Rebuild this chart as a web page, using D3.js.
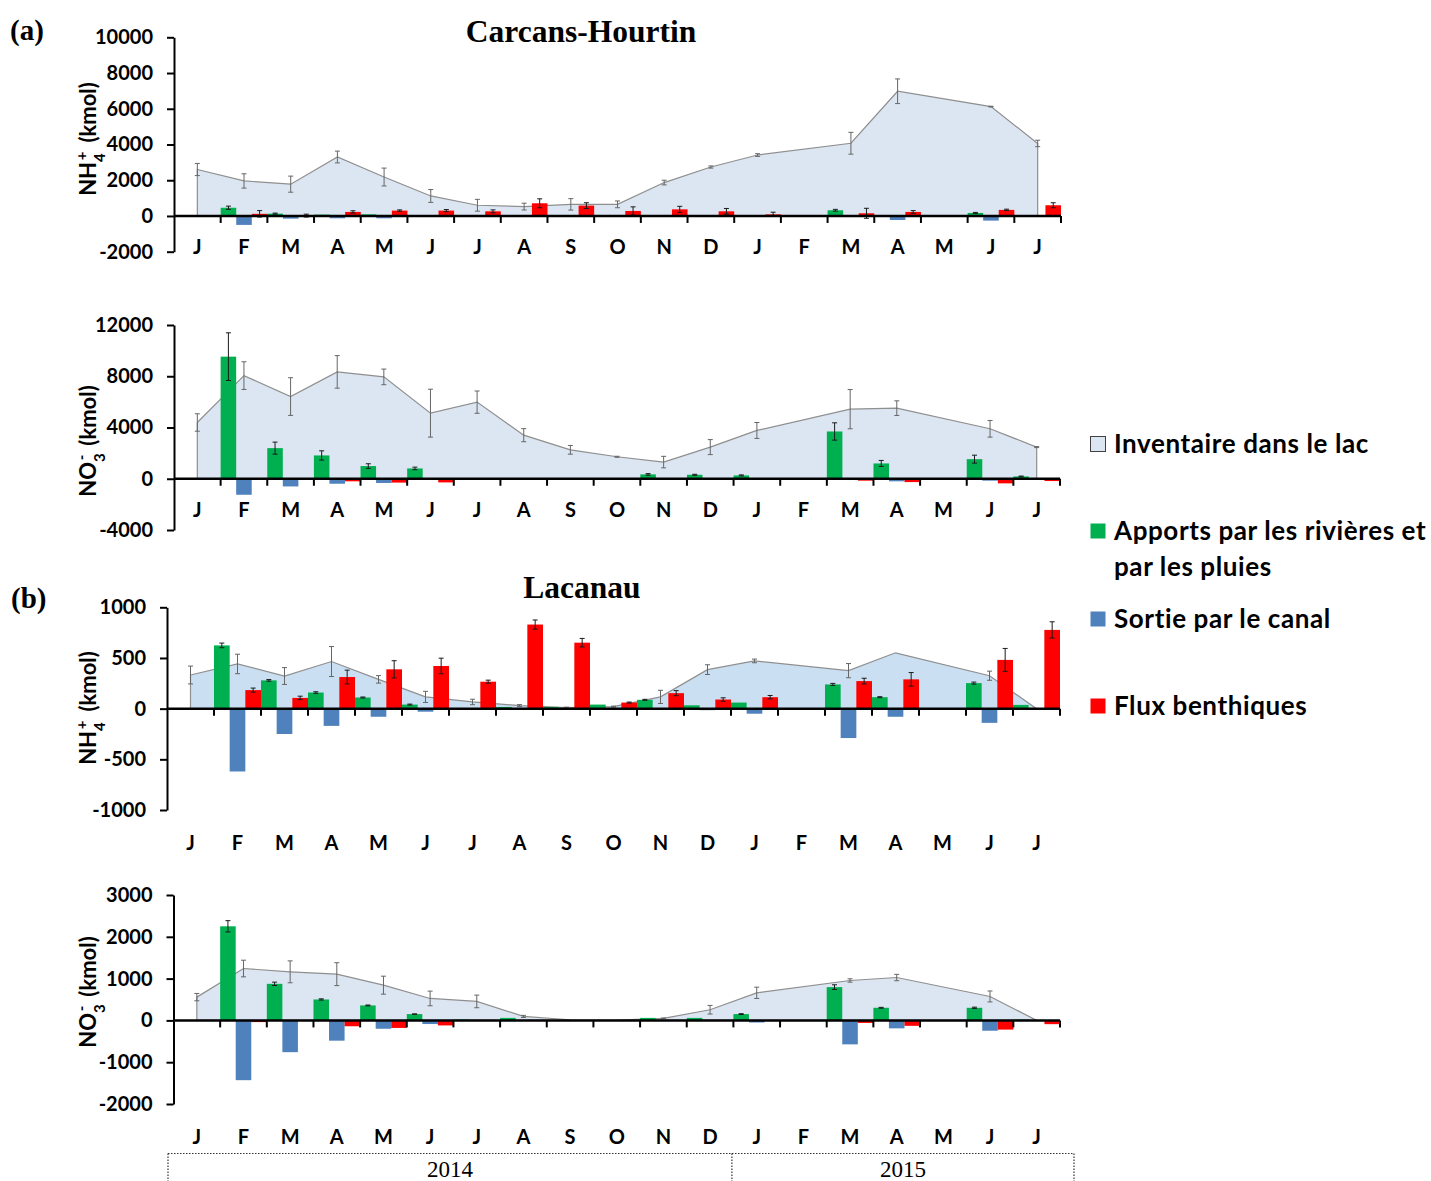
<!DOCTYPE html>
<html>
<head>
<meta charset="UTF-8">
<title>Inventaire et flux d'azote - Carcans-Hourtin et Lacanau</title>
<style>
  body { margin: 0; background: #fff; }
  svg { display: block; }
  text { font-family: Lato, 'Open Sans', sans-serif; }
  .serif { font-family: 'Liberation Serif', 'DejaVu Serif', serif; }
</style>
</head>
<body>
<script src="https://cdn.jsdelivr.net/npm/d3@7/dist/d3.min.js"></script>
<script>

// Month labels, Jan 2014 -> Jul 2015
var months = ["J","F","M","A","M","J","J","A","S","O","N","D","J","F","M","A","M","J","J"];
var years = [{label: "2014", from: 0, to: 12}, {label: "2015", from: 12, to: 19}];

// (a) Carcans-Hourtin, NH4+ (kmol)
var carcNH4Inv      = [2600, 1960, 1780, 3300, 2180, 1120, 600, 525, 650, 650, 1870, 2740, 3410, null, 4070, 6980, null, 6120, 4060];
var carcNH4InvErr   = [340, 400, 450, 330, 500, 360, 330, 190, 320, 190, 130, 60, 75, null, 610, 690, null, 20, 180];
var carcNH4Apports  = [0, 460, 130, 75, 90, 0, 0, 0, 30, 0, 30, 0, 0, 0, 320, 0, 0, 170, 0];
var carcNH4AppErr   = [0, 90, 30, 0, 0, 0, 0, 0, 0, 0, 0, 0, 0, 0, 50, 0, 0, 30, 0];
var carcNH4Sortie   = [0, -500, -150, -130, -130, 0, 0, 0, 0, 0, 0, 0, 0, 0, -60, -225, 0, -260, 0];
var carcNH4Flux     = [0, 120, 20, 225, 300, 300, 260, 710, 580, 280, 370, 260, 90, 0, 150, 225, 0, 340, 600];
var carcNH4FluxErr  = [0, 180, 80, 65, 40, 60, 80, 250, 160, 230, 170, 160, 120, 0, 280, 75, 0, 40, 140];

// (a) Carcans-Hourtin, NO3- (kmol)
var carcNO3Inv      = [4390, 8050, 6415, 8340, 7950, 5120, 5980, 3400, 2260, 1715, 1300, 2470, 3770, null, 5430, 5510, null, 3900, 2470];
var carcNO3InvErr   = [680, 1080, 1470, 1270, 610, 1870, 870, 510, 340, 40, 450, 585, 620, null, 1530, 570, null, 650, 40];
var carcNO3Apports  = [0, 9530, 2390, 1820, 990, 805, 0, 0, 0, 40, 340, 310, 260, 0, 3690, 1195, 0, 1530, 180];
var carcNO3AppErr   = [0, 1860, 470, 360, 180, 100, 0, 0, 0, 0, 60, 40, 40, 0, 675, 235, 0, 310, 30];
var carcNO3Sortie   = [0, -1250, -600, -390, -330, 0, 0, 0, 0, 0, 0, 0, 0, 0, 0, -200, 0, -150, 0];
var carcNO3Flux     = [0, -50, 0, -200, -300, -285, 0, 0, 0, 0, 0, 0, 0, 0, -150, -260, 0, -360, -180];
var carcNO3FluxErr  = [0, 0, 0, 0, 0, 0, 0, 0, 0, 0, 0, 0, 0, 0, 0, 0, 0, 0, 0];

// (b) Lacanau, NH4+ (kmol)
var lacNH4Inv       = [332, 441, 322, 465, 289, 116, 66, 30, 10, 20, 116, 385, 471, null, 375, 551, null, 325, 0];
var lacNH4InvErr    = [88, 96, 83, 148, 37, 55, 27, 10, 5, 5, 65, 48, 18, null, 70, 0, null, 45, 0];
var lacNH4Apports   = [0, 624, 279, 159, 110, 40, 0, 17, 17, 40, 87, 33, 60, 0, 239, 113, 0, 252, 37];
var lacNH4AppErr    = [0, 23, 8, 8, 5, 5, 0, 0, 0, 0, 5, 0, 0, 0, 10, 5, 0, 10, 0];
var lacNH4Sortie    = [0, -620, -250, -170, -80, -30, 0, 0, 0, 0, 0, -15, -50, 0, -290, -80, 0, -140, 0];
var lacNH4Flux      = [0, 183, 106, 312, 388, 421, 266, 830, 651, 60, 153, 90, 113, 0, 272, 289, 0, 481, 777];
var lacNH4FluxErr   = [0, 20, 17, 68, 85, 77, 15, 45, 42, 5, 25, 17, 17, 0, 28, 67, 0, 113, 80];

// (b) Lacanau, NO3- (kmol)
var lacNO3Inv       = [557, 1241, 1162, 1106, 843, 525, 454, 95, 15, 5, 48, 255, 660, null, 955, 1026, null, 573, 0];
var lacNO3InvErr    = [88, 199, 262, 274, 215, 175, 151, 25, 0, 0, 10, 103, 135, null, 40, 76, null, 131, 0];
var lacNO3Apports   = [0, 2251, 875, 501, 358, 151, 20, 60, 0, 10, 60, 60, 151, 0, 796, 302, 0, 302, 20];
var lacNO3AppErr    = [0, 135, 40, 15, 10, 5, 0, 0, 0, 0, 0, 0, 10, 0, 56, 10, 0, 15, 0];
var lacNO3Sortie    = [0, -1430, -760, -485, -200, -87, 0, 0, 0, 0, 0, 0, -50, 0, -573, -190, 0, -247, 0];
var lacNO3Flux      = [0, -40, 0, -140, -180, -120, 0, 0, 0, 0, 0, 0, 0, 0, -60, -130, 0, -220, -90];
var lacNO3FluxErr   = [0, 0, 0, 0, 0, 0, 0, 0, 0, 0, 0, 0, 0, 0, 0, 0, 0, 0, 0];

var legendLabels = ["Inventaire dans le lac", "Apports par les rivières et|par les pluies", "Sortie par le canal", "Flux benthiques"];

var colGreen = "#00b050", colBlue = "#4f81bd", colRed = "#ff0000";

var svg = d3.select("body").append("svg")
            .attr("width", 1431)
            .attr("height", 1181);

function errBars(g, data, xf, y, color) {
  var eb = g.append("g").attr("stroke", color).attr("stroke-width", 1);
  data.forEach(function(d) {
    var cx = xf(d), t = y(d.v + d.e), b = y(d.v - d.e);
    eb.append("line").attr("x1", cx).attr("x2", cx).attr("y1", t).attr("y2", b);
    eb.append("line").attr("x1", cx - 2.5).attr("x2", cx + 2.5).attr("y1", t).attr("y2", t);
    eb.append("line").attr("x1", cx - 2.5).attr("x2", cx + 2.5).attr("y1", b).attr("y2", b);
  });
}

function drawPanel(p) {
  var x = d3.scaleBand().domain(d3.range(months.length)).range([p.x0, p.x1]).padding(0);
  var xs = d3.scaleBand().domain(["apports", "sortie", "flux"]).range([0, x.bandwidth()]).padding(0);
  var y = d3.scaleLinear().domain(p.yDomain).range([p.yBottom, p.yTop]);
  var g = svg.append("g");
  var mid = function(d) { return x(d.i) + x.bandwidth() / 2; };

  // inventory area (missing months are skipped, the line joins across them)
  var inv = p.inv.map(function(v, i) { return {i: i, v: v, e: p.invErr[i]}; })
                 .filter(function(d) { return d.v != null; });
  var area = d3.area().x(mid).y0(y(0)).y1(function(d) { return y(d.v); });
  g.append("path").datum(inv)
   .attr("d", area)
   .attr("fill", p.areaFill)
   .attr("stroke", "#8f8f8f")
   .attr("stroke-width", 1.2);
  errBars(g, inv.filter(function(d) { return d.e > 0; }), mid, y, "#666");

  // bars
  var series = [
    {key: "apports", vals: p.apports, err: p.appErr, color: colGreen},
    {key: "sortie", vals: p.sortie, err: null, color: colBlue},
    {key: "flux", vals: p.flux, err: p.fluxErr, color: colRed}
  ];
  series.forEach(function(s) {
    var data = s.vals.map(function(v, i) { return {i: i, v: v, e: s.err ? s.err[i] : 0}; })
                     .filter(function(d) { return d.v !== 0; });
    g.selectAll(null).data(data).enter().append("rect")
     .attr("x", function(d) { return x(d.i) + xs(s.key); })
     .attr("width", xs.bandwidth())
     .attr("y", function(d) { return y(Math.max(0, d.v)); })
     .attr("height", function(d) { return Math.max(1, Math.abs(y(d.v) - y(0))); })
     .attr("fill", s.color);
    errBars(g, data.filter(function(d) { return d.e > 0; }),
            function(d) { return x(d.i) + xs(s.key) + xs.bandwidth() / 2; }, y, "#1a1a1a");
  });

  // y axis
  var yAxis = d3.axisLeft(y).tickValues(p.yTicks).tickSize(7).tickSizeOuter(0).tickPadding(14)
                .tickFormat(function(d) { return String(d); });
  var ga = g.append("g").attr("transform", "translate(" + p.x0 + ",0)").call(yAxis);
  ga.select(".domain").attr("stroke", "#000").attr("stroke-width", 2);
  ga.selectAll(".tick line").attr("stroke", "#000").attr("stroke-width", 2);
  ga.selectAll(".tick text")
    .attr("fill", "#000")
    .style("font-family", "Lato, 'Open Sans', sans-serif")
    .style("font-weight", "bold")
    .style("font-size", "20px");

  // x axis on the zero line, ticks between months
  var y0 = y(0);
  g.append("line").attr("x1", p.x0).attr("x2", p.x1).attr("y1", y0).attr("y2", y0)
   .attr("stroke", "#000").attr("stroke-width", 2.5);
  g.selectAll(null).data(d3.range(1, months.length + 1)).enter().append("line")
   .attr("x1", function(i) { return i < months.length ? x(i) : p.x1; })
   .attr("x2", function(i) { return i < months.length ? x(i) : p.x1; })
   .attr("y1", y0).attr("y2", y0 + 7)
   .attr("stroke", "#000").attr("stroke-width", 2);
  g.selectAll(null).data(months).enter().append("text")
   .attr("x", function(m, i) { return x(i) + x.bandwidth() / 2; })
   .attr("y", p.labelY)
   .attr("text-anchor", "middle")
   .attr("dy", "0.36em")
   .style("font-weight", "bold")
   .style("font-size", "20px")
   .text(function(m) { return m; });

  // y title with sub/superscript
  var t = g.append("text")
           .attr("transform", "translate(" + p.titleX + "," + p.titleY + ") rotate(-90)")
           .attr("text-anchor", "middle")
           .style("font-weight", "bold")
           .style("font-size", "22px");
  t.append("tspan").text(p.ion[0]);
  t.append("tspan").attr("baseline-shift", "sub").style("font-size", "15px").text(p.ion[1]);
  t.append("tspan").attr("baseline-shift", "super").attr("dx", -7).style("font-size", "15px").text(p.ion[2]);
  t.append("tspan").attr("dx", 9).text("(kmol)");

  return x;
}

drawPanel({
  x0: 174, x1: 1061, yTop: 37.3, yBottom: 251.7, yDomain: [-2000, 10000],
  yTicks: d3.range(-2000, 10001, 2000), labelY: 247, titleX: 96, titleY: 139,
  ion: ["NH", "4", "+"], areaFill: "#dce6f2",
  inv: carcNH4Inv, invErr: carcNH4InvErr, apports: carcNH4Apports, appErr: carcNH4AppErr,
  sortie: carcNH4Sortie, flux: carcNH4Flux, fluxErr: carcNH4FluxErr
});

drawPanel({
  x0: 174, x1: 1060, yTop: 325, yBottom: 530, yDomain: [-4000, 12000],
  yTicks: d3.range(-4000, 12001, 4000), labelY: 510, titleX: 96, titleY: 441,
  ion: ["NO", "3", "-"], areaFill: "#dce6f2",
  inv: carcNO3Inv, invErr: carcNO3InvErr, apports: carcNO3Apports, appErr: carcNO3AppErr,
  sortie: carcNO3Sortie, flux: carcNO3Flux, fluxErr: carcNO3FluxErr
});

drawPanel({
  x0: 167, x1: 1060, yTop: 607.3, yBottom: 810, yDomain: [-1000, 1000],
  yTicks: d3.range(-1000, 1001, 500), labelY: 843, titleX: 96, titleY: 708,
  ion: ["NH", "4", "+"], areaFill: "#cbdff2",
  inv: lacNH4Inv, invErr: lacNH4InvErr, apports: lacNH4Apports, appErr: lacNH4AppErr,
  sortie: lacNH4Sortie, flux: lacNH4Flux, fluxErr: lacNH4FluxErr
});

var xLast = drawPanel({
  x0: 173.5, x1: 1060, yTop: 895, yBottom: 1104, yDomain: [-2000, 3000],
  yTicks: d3.range(-2000, 3001, 1000), labelY: 1137, titleX: 96, titleY: 992,
  ion: ["NO", "3", "-"], areaFill: "#dce6f2",
  inv: lacNO3Inv, invErr: lacNO3InvErr, apports: lacNO3Apports, appErr: lacNO3AppErr,
  sortie: lacNO3Sortie, flux: lacNO3Flux, fluxErr: lacNO3FluxErr
});

// titles and panel letters
svg.append("text").attr("class", "serif").attr("x", 581).attr("y", 42)
   .attr("text-anchor", "middle").style("font-weight", "bold").style("font-size", "31.5px")
   .text("Carcans-Hourtin");
svg.append("text").attr("class", "serif").attr("x", 582).attr("y", 598)
   .attr("text-anchor", "middle").style("font-weight", "bold").style("font-size", "31.5px")
   .text("Lacanau");
svg.append("text").attr("class", "serif").attr("x", 10).attr("y", 40)
   .style("font-weight", "bold").style("font-size", "29px").text("(a)");
svg.append("text").attr("class", "serif").attr("x", 11).attr("y", 608)
   .style("font-weight", "bold").style("font-size", "29px").text("(b)");

// year boxes under the last panel
var yb = svg.append("g").attr("stroke", "#333").attr("stroke-width", 1.2).attr("stroke-dasharray", "1.5,1.5");
var boxL = 168, boxR = 1074, boxTop = 1153.5;
yb.append("line").attr("x1", boxL).attr("x2", boxR).attr("y1", boxTop).attr("y2", boxTop);
[boxL, xLast(12) - 1.5, boxR].forEach(function(xx) {
  yb.append("line").attr("x1", xx).attr("x2", xx).attr("y1", boxTop).attr("y2", 1181);
});
years.forEach(function(yr, k) {
  var a = k === 0 ? boxL : xLast(yr.from) - 1.5;
  var b = k === years.length - 1 ? boxR : xLast(yr.to) - 1.5;
  svg.append("text").attr("class", "serif")
     .attr("x", (a + b) / 2).attr("y", 1177)
     .attr("text-anchor", "middle").style("font-size", "23px")
     .text(yr.label);
});

// legend
var legColors = ["#dce6f2", colGreen, colBlue, colRed];
var legY = [444, 531, 619, 706];
var lg = svg.append("g");
legendLabels.forEach(function(lbl, i) {
  lg.append("rect").attr("x", 1090.5).attr("y", legY[i] - 7.5).attr("width", 15).attr("height", 15)
    .attr("fill", legColors[i])
    .attr("stroke", i === 0 ? "#404040" : "none").attr("stroke-width", 1);
  var lines = lbl.split("|");
  lines.forEach(function(line, j) {
    lg.append("text").attr("x", 1114).attr("y", legY[i] + j * 36)
      .attr("dy", "0.36em")
      .style("font-weight", "bold").style("font-size", "26px")
      .style("letter-spacing", "0.6px")
      .text(line);
  });
});

</script>
</body>
</html>
